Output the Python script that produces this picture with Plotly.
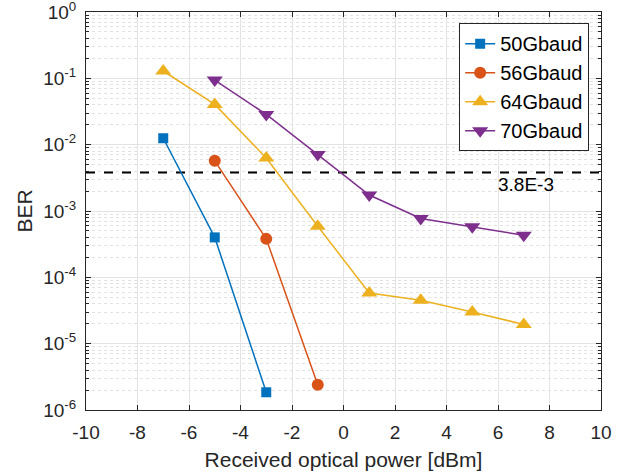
import plotly.graph_objects as go
import numpy as np

# Received optical power [dBm]
p50 = [-7, -5, -3]
p56 = [-5, -3, -1]
p64 = [-7, -5, -3, -1, 1, 3, 5, 7]
p70 = [-5, -3, -1, 1, 3, 5, 7]

# Measured BER
ber50 = [1.25e-2, 4.0e-4, 1.85e-6]
ber56 = [5.7e-3, 3.8e-4, 2.4e-6]
ber64 = [1.29e-1, 4.05e-2, 6.3e-3, 5.9e-4, 5.8e-5, 4.5e-5, 3.0e-5, 1.95e-5]
ber70 = [9.4e-2, 2.86e-2, 7.1e-3, 1.74e-3, 7.7e-4, 5.8e-4, 4.3e-4]

fec_limit = 3.8e-3
fec_label = "3.8E-3"

x_ticks = [-10, -8, -6, -4, -2, 0, 2, 4, 6, 8, 10]
y_exps = [0, -1, -2, -3, -4, -5, -6]

FONT = "Liberation Sans, Arial, Helvetica, sans-serif"
AX = "#262626"

series = [
    ("50Gbaud", p50, ber50, "#0072BD", "square", 10),
    ("56Gbaud", p56, ber56, "#D95319", "circle", 12),
    ("64Gbaud", p64, ber64, "#EDB120", "triangle-up", 14),
    ("70Gbaud", p70, ber70, "#7E2F8E", "triangle-down", 14),
]

fig = go.Figure()

fig.add_trace(go.Scatter(
    x=[x_ticks[0], x_ticks[-1]], y=[fec_limit, fec_limit], mode="lines",
    line=dict(color="black", width=2, dash="dash"), showlegend=False,
    hoverinfo="skip"))

for name, x, y, col, sym, sz in series:
    fig.add_trace(go.Scatter(
        x=x, y=y, mode="lines+markers", name=name,
        line=dict(color=col, width=1.5),
        marker=dict(symbol=sym, size=sz, color=col, line=dict(width=0))))

fig.add_annotation(
    x=6, y=np.log10(fec_limit), text=fec_label, showarrow=False,
    xanchor="left", yanchor="top", yshift=1, xshift=-2,
    font=dict(family=FONT, size=19, color="black"))

minor_vals = [m * 10.0 ** e for e in range(-6, 0) for m in range(2, 10)]

fig.update_xaxes(
    range=[x_ticks[0], x_ticks[-1]], tickvals=x_ticks,
    ticktext=[str(v) for v in x_ticks],
    ticks="inside", ticklen=5, tickcolor=AX, mirror="allticks",
    showline=True, linecolor=AX, linewidth=1,
    showgrid=True, gridcolor="#e3e3e3", gridwidth=1, zeroline=False,
    ticklabelstandoff=5, ticklabeloverflow="allow", automargin=False,
    tickfont=dict(family=FONT, size=19, color=AX),
    title=dict(text="Received optical power [dBm]", standoff=10,
               font=dict(family=FONT, size=21, color=AX)))

fig.update_yaxes(
    type="log", range=[-6.0001, 0.0001],
    tickvals=[10.0 ** e for e in y_exps],
    ticktext=[f"10<sup>{e}</sup>" for e in y_exps],
    ticks="inside", ticklen=5, tickcolor=AX, mirror="allticks",
    showline=True, linecolor=AX, linewidth=1,
    showgrid=True, gridcolor="#e3e3e3", gridwidth=1, zeroline=False,
    ticklabelstandoff=5, ticklabeloverflow="allow", automargin=False,
    minor=dict(tickvals=minor_vals, ticks="inside", ticklen=3, tickcolor=AX,
               showgrid=True, gridcolor="#e2e2e2", griddash="dot", gridwidth=1),
    tickfont=dict(family=FONT, size=19, color=AX),
    title=dict(text="BER", standoff=4,
               font=dict(family=FONT, size=21, color=AX)))

fig.update_layout(
    width=633, height=476,
    margin=dict(l=86, r=32, t=12, b=66),
    paper_bgcolor="white", plot_bgcolor="white",
    legend=dict(x=0.977, y=0.972, xanchor="right", yanchor="top",
                bgcolor="white", bordercolor=AX, borderwidth=1,
                font=dict(family=FONT, size=20, color="black"),
                itemwidth=30, tracegroupgap=0),
    showlegend=True,
)

fig.write_html("out.html")
